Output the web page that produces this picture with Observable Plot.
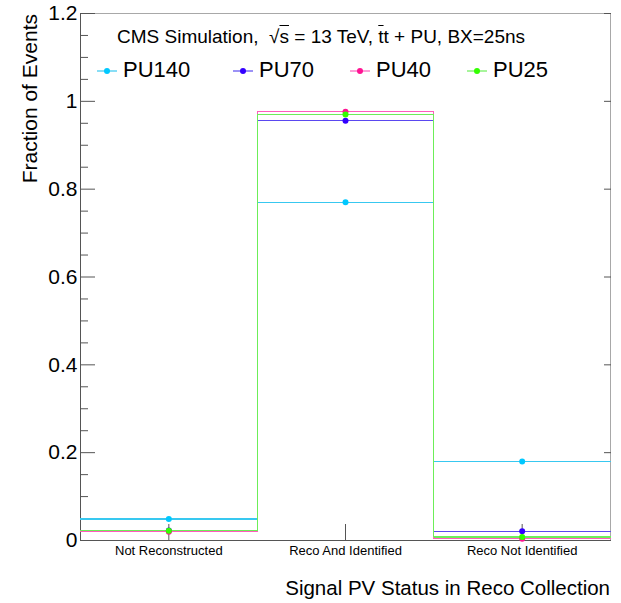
<!DOCTYPE html>
<html>
<head>
<meta charset="utf-8">
<script src="https://cdn.jsdelivr.net/npm/d3@7"></script>
<script src="https://cdn.jsdelivr.net/npm/@observablehq/plot@0.6"></script>
<style>
  html, body { margin: 0; padding: 0; background: #fff; }
  #wrap { position: relative; width: 621px; height: 603px; font-family: "Liberation Sans", Arial, Helvetica, sans-serif; color: #000; }
  #wrap svg.plot { position: absolute; left: 0; top: 0; }
  .ov { position: absolute; line-height: 1; white-space: nowrap; }
</style>
</head>
<body>
<div id="wrap"></div>
<script>
// ---- data ----
const categories = ["Not Reconstructed", "Reco And Identified", "Reco Not Identified"];
const seriesNames = ["PU140", "PU70", "PU40", "PU25"];
const pu140 = [0.049, 0.770, 0.180];
const pu70  = [0.023, 0.956, 0.021];
const pu40  = [0.020, 0.976, 0.004];
const pu25  = [0.022, 0.970, 0.008];
const lineColors   = ["#38c8f0", "#5a48f0", "#ff5cbc", "#6cee58"];
const markerColors = ["#00c8ff", "#3300ff", "#ff1493", "#33ff00"];
const yMajorTicks = [0, 0.2, 0.4, 0.6, 0.8, 1, 1.2];
const yMinorTicks = [0.05, 0.1, 0.15, 0.25, 0.3, 0.35, 0.45, 0.5, 0.55, 0.65, 0.7, 0.75, 0.85, 0.9, 0.95, 1.05, 1.1, 1.15];
const binCenters = [0.5, 1.5, 2.5];
const binEdges = [0, 1, 2, 3];

const seriesValues = [pu140, pu70, pu40, pu25];

// step outline rows per series
const stepRowsBySeries = seriesValues.map((vals, s) =>
  binEdges.map((e, i) => ({series: seriesNames[s], x: e, y: vals[Math.min(i, vals.length - 1)]}))
);
const pointRows = [];
seriesValues.forEach((vals, s) => {
  vals.forEach((v, i) => {
    pointRows.push({series: seriesNames[s], color: markerColors[s], x: binCenters[i], y: v});
  });
});

const font = '"Liberation Sans", Arial, Helvetica, sans-serif';

const chart = Plot.plot({
  width: 621,
  height: 603,
  marginTop: 13,
  marginLeft: 80,
  marginRight: 11,
  marginBottom: 63,
  style: {fontFamily: font, background: "transparent", color: "#000", overflow: "visible"},
  x: {domain: [0, 3]},
  y: {domain: [0, 1.2]},
  color: {type: "identity"},
  marks: [
    Plot.frame({stroke: "#a8a8a8"}),
    Plot.ruleY([0], {stroke: "#555"}),
    Plot.ruleX([0], {stroke: "#555"}),
    // left axis: inward ticks
    Plot.axisY({ticks: yMajorTicks, tickSize: -15, fill: "none", stroke: "#555", label: null}),
    Plot.axisY({ticks: yMinorTicks, tickSize: -8, fill: "none", stroke: "#555", label: null}),
    Plot.axisY({ticks: yMajorTicks, tickSize: 0, tickPadding: 3, fontSize: 21, tickFormat: d => String(d), label: null}),
    // right axis ticks
    Plot.axisY({anchor: "right", ticks: yMajorTicks, tickSize: -7, fill: "none", stroke: "#555", label: null}),
    // bottom axis
    Plot.axisX({ticks: binCenters, tickSize: -16, fill: "none", stroke: "#555", label: null}),
    Plot.axisX({ticks: binCenters, tickSize: 0, tickPadding: 5, fontSize: 13, tickFormat: d => categories[Math.floor(d)], label: null}),
    // histograms, drawn in order so PU25 ends on top
    ...stepRowsBySeries.map((rows, s) =>
      Plot.line(rows, {x: "x", y: "y", stroke: lineColors[s], strokeWidth: 1.1, curve: "step-after", shapeRendering: "crispEdges"})
    ),
    Plot.dot(pointRows, {x: "x", y: "y", fill: "color", r: 3})
  ]
});
chart.classList.add("plot");

const wrap = document.getElementById("wrap");
wrap.appendChild(chart);

function addOverlay(html, style) {
  const d = document.createElement("div");
  d.className = "ov";
  d.innerHTML = html;
  Object.assign(d.style, style);
  wrap.appendChild(d);
  return d;
}

// header text
addOverlay('CMS Simulation,&nbsp; \u221A<span style="text-decoration:overline">s</span> = 13 TeV, <span style="text-decoration:overline">t</span>t + PU, BX=25ns',
  {left: "117px", top: "27px", fontSize: "19px"});

// legend
const legendStarts = [97, 233, 350, 467];
seriesNames.forEach((name, i) => {
  const x0 = legendStarts[i];
  addOverlay(`<svg width="20" height="10" style="display:block"><line x1="0" y1="5" x2="20" y2="5" stroke="${lineColors[i]}" stroke-width="1.2"/><circle cx="10" cy="5" r="3" fill="${markerColors[i]}"/></svg>`,
    {left: x0 + "px", top: "66px"});
  addOverlay(name, {left: (x0 + 26) + "px", top: "59px", fontSize: "22px"});
});

// axis titles
addOverlay("Fraction of Events", {left: "19px", top: "14px", fontSize: "21px", transformOrigin: "0 0", transform: "rotate(-90deg) translateX(-100%)"});
addOverlay("Signal PV Status in Reco Collection", {right: "11px", top: "578px", fontSize: "20.5px"});
</script>
</body>
</html>
